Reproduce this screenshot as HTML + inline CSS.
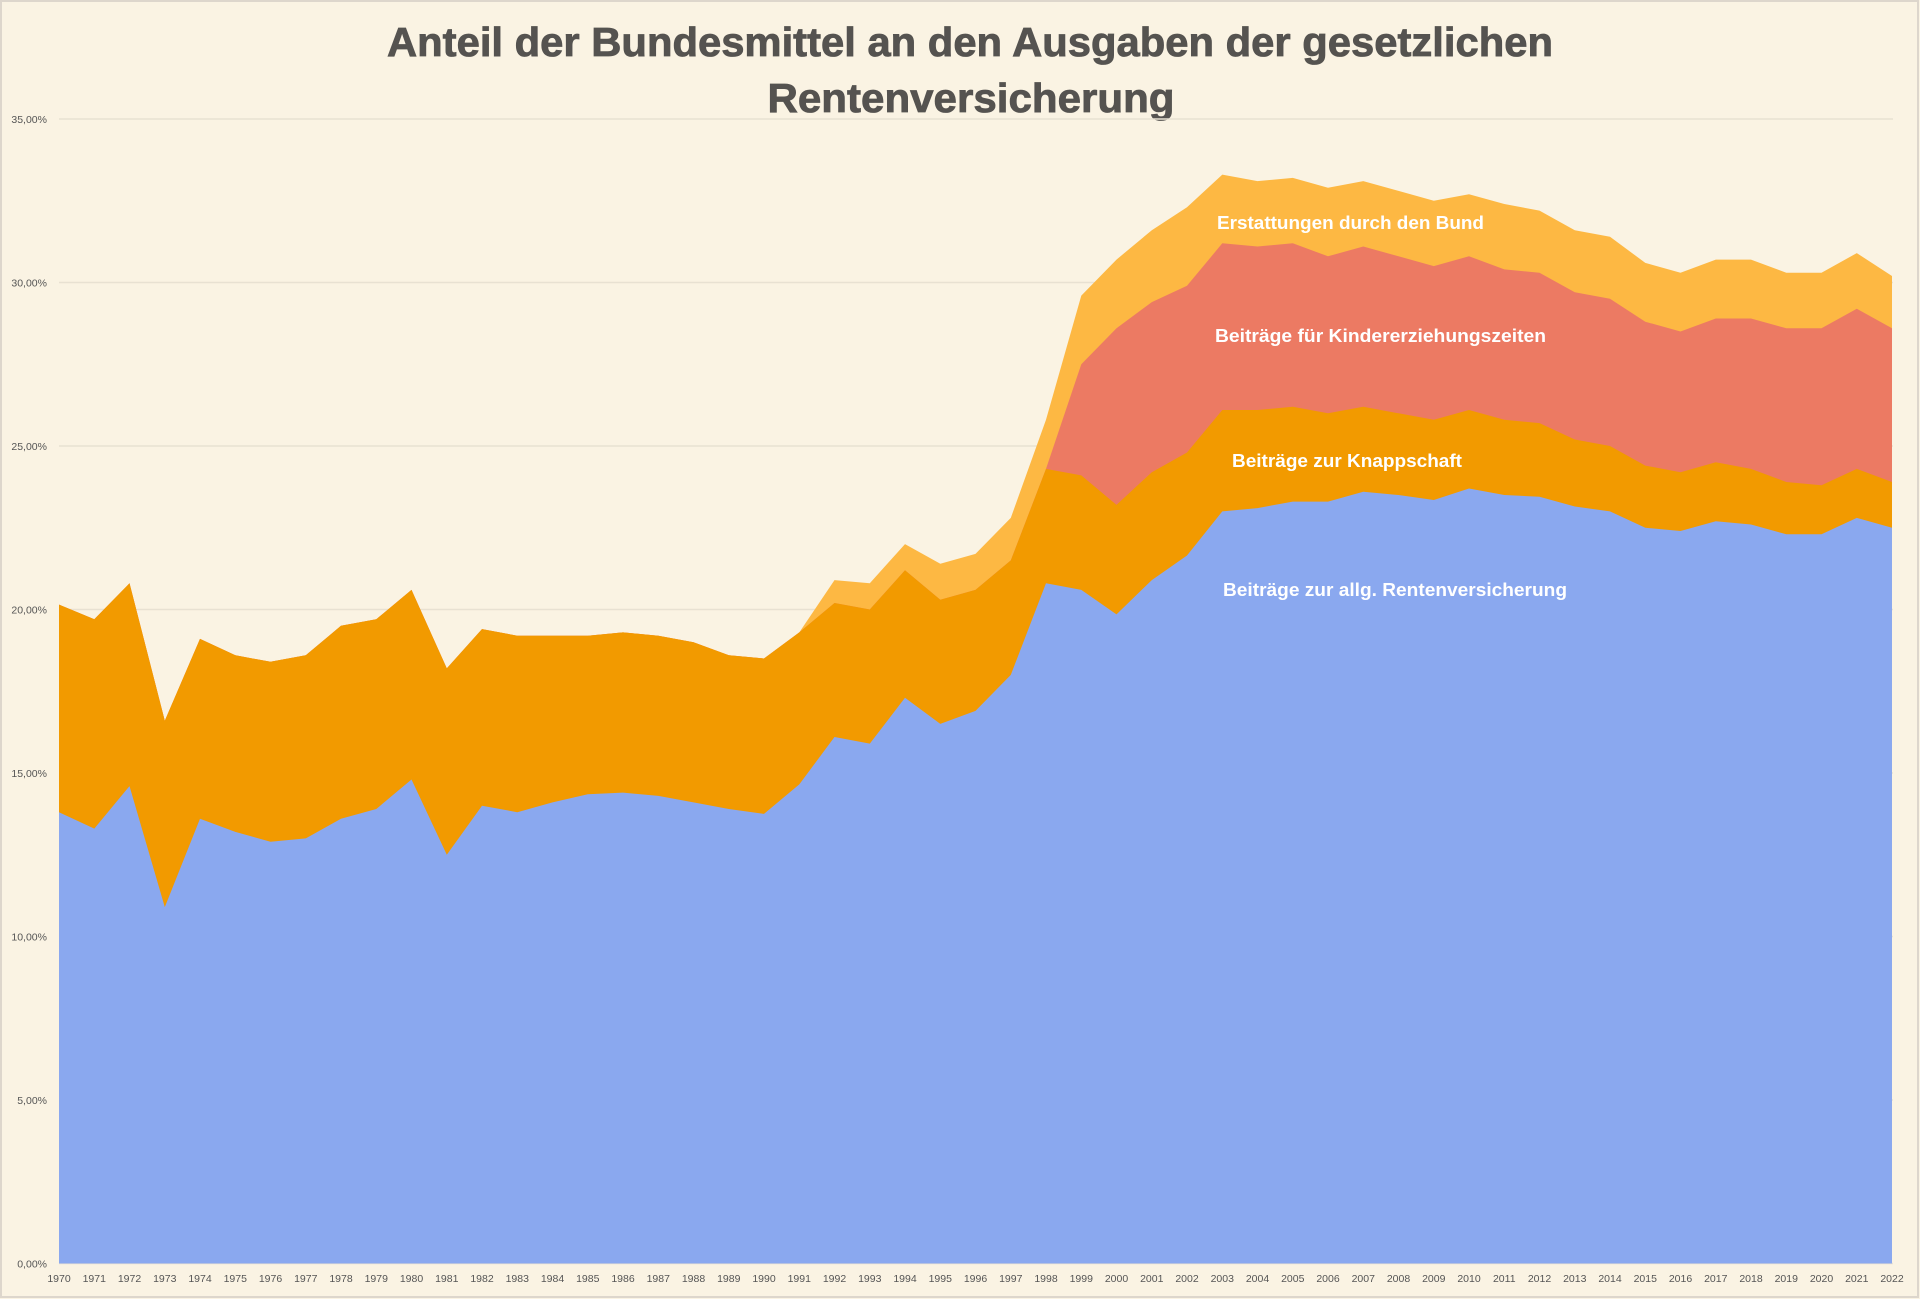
<!DOCTYPE html>
<html><head><meta charset="utf-8"><style>
html,body{margin:0;padding:0;background:#faf3e3;}
svg{display:block;}
</style></head><body>
<svg id="c" width="1920" height="1299" xmlns="http://www.w3.org/2000/svg" font-family="Liberation Sans, sans-serif">
<rect x="0" y="0" width="1920" height="1299" fill="#faf3e3"/>
<rect x="1" y="1" width="1917" height="1296" fill="none" stroke="#ddd6cc" stroke-width="2"/>
<text x="970" y="56" text-anchor="middle" font-size="41" font-weight="bold" fill="#555350" stroke="#555350" stroke-width="0.8" textLength="1166" lengthAdjust="spacingAndGlyphs">Anteil der Bundesmittel an den Ausgaben der gesetzlichen</text>
<text x="971" y="112" text-anchor="middle" font-size="41" font-weight="bold" fill="#555350" stroke="#555350" stroke-width="0.8" textLength="407" lengthAdjust="spacingAndGlyphs">Rentenversicherung</text>
<g id="g"></g>
<g id="a"></g>
<g fill="#ffffff" font-weight="bold" font-size="18">
<text x="1217" y="229" textLength="267" lengthAdjust="spacingAndGlyphs">Erstattungen durch den Bund</text>
<text x="1215" y="342" textLength="331" lengthAdjust="spacingAndGlyphs">Beiträge für Kindererziehungszeiten</text>
<text x="1232" y="467" textLength="230" lengthAdjust="spacingAndGlyphs">Beiträge zur Knappschaft</text>
<text x="1223" y="596" textLength="344" lengthAdjust="spacingAndGlyphs">Beiträge zur allg. Rentenversicherung</text>
</g>
</svg>
<script>
var B=[13.8,13.3,14.6,10.9,13.6,13.2,12.9,13.0,13.6,13.9,14.8,12.5,14.0,13.8,14.1,14.35,14.4,14.3,14.1,13.9,13.75,14.65,16.1,15.9,17.3,16.5,16.9,18.0,20.8,20.6,19.85,20.9,21.65,23.0,23.1,23.3,23.3,23.6,23.5,23.35,23.7,23.5,23.45,23.15,23.0,22.5,22.4,22.7,22.6,22.3,22.3,22.8,22.5];
var O=[20.15,19.7,20.8,16.6,19.1,18.6,18.4,18.6,19.5,19.7,20.6,18.2,19.4,19.2,19.2,19.2,19.3,19.2,19.0,18.6,18.5,19.3,20.2,20.0,21.2,20.3,20.6,21.5,24.3,24.1,23.2,24.2,24.8,26.1,26.1,26.2,26.0,26.2,26.0,25.8,26.1,25.8,25.7,25.2,25.0,24.4,24.2,24.5,24.3,23.9,23.8,24.3,23.9];
var Rp=[24.3,27.5,28.6,29.4,29.9,31.2,31.1,31.2,30.8,31.1,30.8,30.5,30.8,30.4,30.3,29.7,29.5,28.8,28.5,28.9,28.9,28.6,28.6,29.2,28.6];
var Ep=[20.9,20.8,22.0,21.4,21.7,22.8,25.8,29.6,30.7,31.6,32.3,33.3,33.1,33.2,32.9,33.1,32.8,32.5,32.7,32.4,32.2,31.6,31.4,30.6,30.3,30.7,30.7,30.3,30.3,30.9,30.2];
var R=O.slice(),E;
for(var i=0;i<Rp.length;i++)R[28+i]=Rp[i];
E=R.slice();for(i=0;i<Ep.length;i++)E[22+i]=Ep[i];
function X(i){return 59+i*1833/52;}
function Y(v){return 1263.5-v*32.7;}
function area(arr,col){var d="M"+X(0)+","+Y(0);for(var i=0;i<arr.length;i++)d+="L"+X(i).toFixed(1)+","+Y(arr[i]).toFixed(1);d+="L"+X(52)+","+Y(0)+"Z";return '<path d="'+d+'" fill="'+col+'"/>';}
var g='';
for(var k=0;k<=7;k++){var y=Y(k*5);g+='<line x1="59" x2="1893" y1="'+y+'" y2="'+y+'" stroke="#e8e1d2" stroke-width="1.5"/>';
g+='<text x="47" y="'+(y+4)+'" text-anchor="end" font-size="10.5" fill="#555">'+(k*5)+',00%</text>';}
for(i=0;i<53;i++)g+='<text x="'+X(i)+'" y="1282" text-anchor="middle" font-size="10.5" fill="#555">'+(1970+i)+'</text>';
document.getElementById('g').innerHTML=g;
document.getElementById('a').innerHTML=area(E,'#fdb843')+area(R,'#ec7a63')+area(O,'#f29a00')+area(B,'#8aa8ef');
</script>
</body></html>
